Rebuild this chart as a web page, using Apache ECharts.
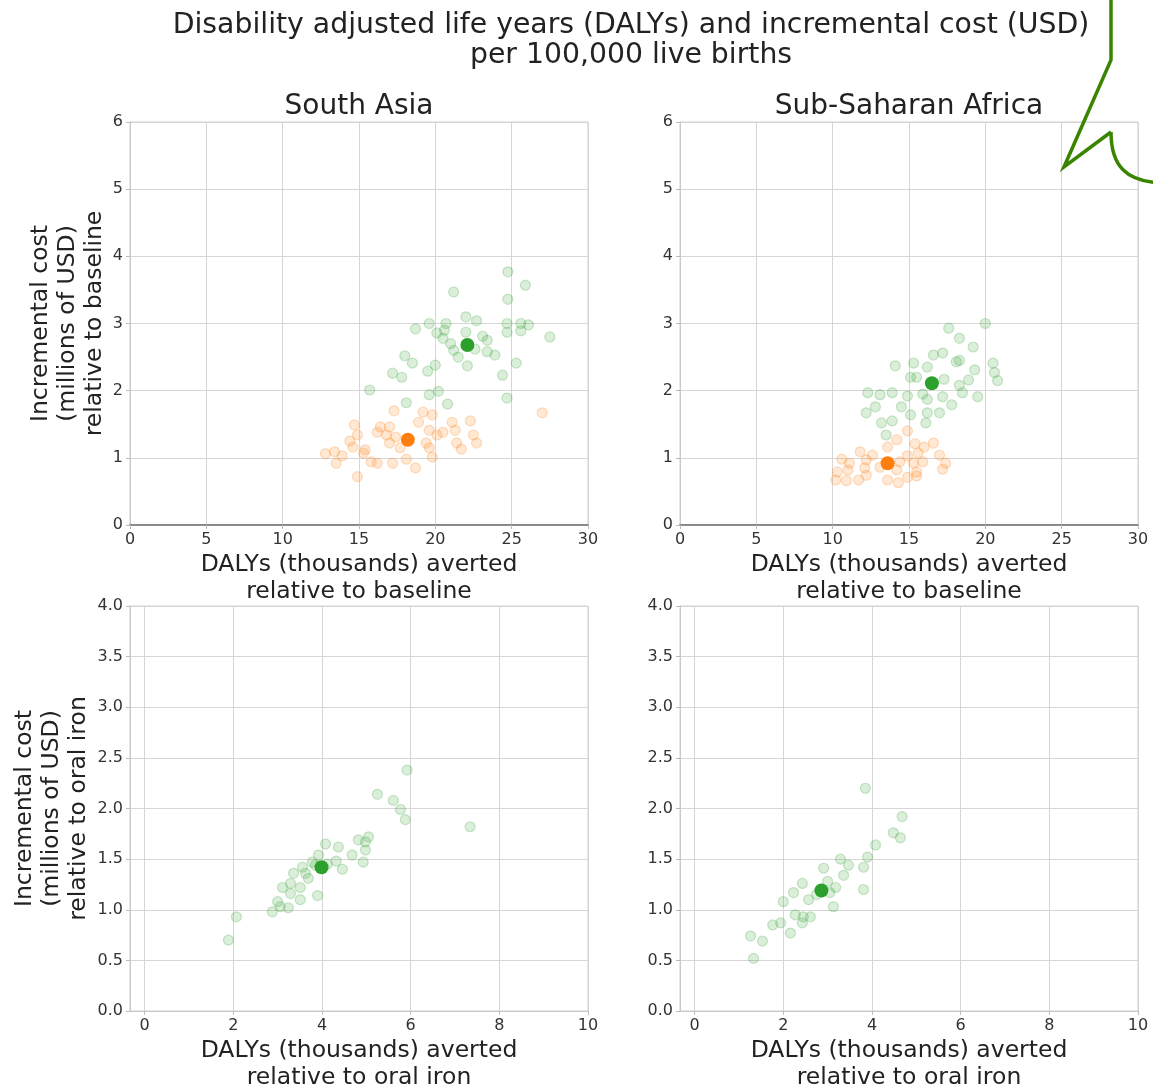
<!DOCTYPE html>
<html>
<head>
<meta charset="utf-8">
<script src="https://cdn.jsdelivr.net/npm/echarts@6/dist/echarts.min.js"></script>
<style>
  html, body { margin: 0; padding: 0; background: #fff; }
  #chart { width: 1153px; height: 1088px; }
</style>
</head>
<body>
<div id="chart"></div>
<script>
// ---- Panel titles and axis text ----
const chartTitle = 'Disability adjusted life years (DALYs) and incremental cost (USD)\nper 100,000 live births';
const regions = ['South Asia', 'Sub-Saharan Africa'];
const xNameBaseline = 'DALYs (thousands) averted\nrelative to baseline';
const xNameOralIron = 'DALYs (thousands) averted\nrelative to oral iron';
const yNameBaseline = 'Incremental cost\n(millions of USD)\nrelative to baseline';
const yNameOralIron = 'Incremental cost\n(millions of USD)\nrelative to oral iron';

// ---- Tick values ----
const baselineXTicks = [0, 5, 10, 15, 20, 25, 30];
const baselineYTicks = [0, 1, 2, 3, 4, 5, 6];
const oralIronXTicks = [0, 2, 4, 6, 8, 10];
const oralIronYTicks = [0, 0.5, 1, 1.5, 2, 2.5, 3, 3.5, 4];

// ---- South Asia, relative to baseline: [DALYs averted (thousands), cost (millions USD)] ----
const saGreenRuns = [
  [24.75, 3.77], [25.9, 3.57], [21.2, 3.47], [24.75, 3.36], [22.0, 3.10], [22.7, 3.04],
  [19.6, 3.0], [20.7, 3.0], [24.7, 3.0], [25.6, 3.0], [26.1, 2.98], [18.7, 2.92],
  [20.6, 2.9], [20.1, 2.86], [22.0, 2.87], [23.1, 2.81], [23.4, 2.75], [24.7, 2.87],
  [25.6, 2.89], [20.5, 2.78], [27.5, 2.80], [21.2, 2.60], [21.5, 2.50], [23.4, 2.58],
  [23.9, 2.53], [22.1, 2.37], [18.0, 2.52], [18.5, 2.41], [20.0, 2.38], [19.5, 2.29],
  [25.3, 2.41], [24.4, 2.23], [17.2, 2.26], [17.8, 2.20], [15.7, 2.01], [19.6, 1.94],
  [20.2, 1.99], [24.7, 1.89], [18.1, 1.82], [20.8, 1.80], [21.0, 2.70], [22.6, 2.62]
];
const saOrangeRuns = [
  [27.0, 1.67], [17.3, 1.70], [19.2, 1.68], [19.8, 1.64], [22.3, 1.55], [21.1, 1.53],
  [14.7, 1.49], [16.4, 1.46], [17.0, 1.46], [18.9, 1.53], [19.6, 1.41], [20.5, 1.38],
  [21.3, 1.41], [14.9, 1.34], [16.2, 1.38], [16.8, 1.34], [17.4, 1.31], [20.1, 1.34],
  [22.5, 1.34], [14.4, 1.25], [17.0, 1.22], [19.4, 1.22], [21.4, 1.22], [22.7, 1.22],
  [14.6, 1.16], [15.4, 1.12], [17.7, 1.15], [19.6, 1.15], [21.7, 1.13], [12.8, 1.06],
  [13.4, 1.09], [13.9, 1.03], [15.3, 1.07], [19.8, 1.01], [13.5, 0.92], [15.8, 0.94],
  [16.2, 0.92], [17.2, 0.92], [18.1, 0.98], [18.7, 0.85], [14.9, 0.72]
];
const saGreenMean = [22.1, 2.68];
const saOrangeMean = [18.2, 1.27];

// ---- Sub-Saharan Africa, relative to baseline ----
const ssaGreenRuns = [
  [20.0, 3.0], [17.6, 2.93], [18.3, 2.78], [19.2, 2.65], [16.6, 2.53], [17.2, 2.56],
  [18.1, 2.43], [18.3, 2.45], [20.5, 2.41], [14.1, 2.37], [15.3, 2.41], [16.2, 2.35],
  [19.3, 2.31], [20.6, 2.27], [20.8, 2.15], [15.1, 2.20], [15.5, 2.20], [17.3, 2.17],
  [18.9, 2.16], [18.3, 2.08], [12.3, 1.97], [13.1, 1.94], [13.9, 1.97], [14.9, 1.92],
  [15.9, 1.95], [16.2, 1.87], [17.2, 1.91], [18.5, 1.97], [19.5, 1.91], [12.8, 1.76],
  [12.2, 1.67], [14.5, 1.76], [15.1, 1.64], [16.2, 1.67], [17.0, 1.67], [17.8, 1.79],
  [13.2, 1.52], [13.9, 1.55], [16.1, 1.52], [13.5, 1.34]
];
const ssaOrangeRuns = [
  [14.9, 1.40], [14.2, 1.27], [15.4, 1.21], [16.0, 1.16], [16.6, 1.22], [11.8, 1.09],
  [12.6, 1.04], [13.6, 1.16], [14.9, 1.03], [15.6, 1.07], [17.0, 1.04], [10.6, 0.98],
  [11.1, 0.92], [12.2, 0.97], [14.4, 0.94], [15.3, 0.92], [15.9, 0.94], [17.4, 0.92],
  [10.3, 0.79], [11.0, 0.82], [12.1, 0.85], [13.1, 0.86], [14.2, 0.82], [15.5, 0.79],
  [17.2, 0.83], [10.2, 0.67], [10.9, 0.66], [11.7, 0.67], [12.2, 0.74], [13.6, 0.67],
  [14.3, 0.63], [14.9, 0.71], [15.5, 0.73]
];
const ssaGreenMean = [16.5, 2.11];
const ssaOrangeMean = [13.6, 0.92];

// ---- South Asia, relative to oral iron ----
const saIronRuns = [
  [5.92, 2.38], [5.25, 2.14], [5.61, 2.08], [5.77, 1.99], [5.88, 1.89], [5.05, 1.72],
  [4.82, 1.69], [4.98, 1.67], [4.98, 1.59], [4.08, 1.65], [4.37, 1.62], [4.68, 1.54],
  [3.92, 1.54], [4.93, 1.47], [3.78, 1.47], [3.56, 1.42], [4.32, 1.48], [4.46, 1.40],
  [3.36, 1.36], [3.63, 1.36], [3.69, 1.31], [3.29, 1.26], [3.11, 1.22], [3.51, 1.22],
  [3.90, 1.14], [3.29, 1.16], [3.00, 1.08], [3.51, 1.10], [3.06, 1.03], [3.24, 1.02],
  [2.88, 0.98], [2.07, 0.93], [1.89, 0.70], [7.34, 1.82], [3.85, 1.44], [4.12, 1.45]
];
const saIronMean = [3.99, 1.42];

// ---- Sub-Saharan Africa, relative to oral iron ----
const ssaIronRuns = [
  [3.85, 2.20], [4.68, 1.92], [4.48, 1.76], [4.64, 1.71], [4.08, 1.64], [3.90, 1.52],
  [3.81, 1.42], [3.29, 1.50], [3.47, 1.44], [2.91, 1.41], [3.36, 1.34], [3.81, 1.20],
  [2.43, 1.26], [3.18, 1.22], [3.00, 1.28], [2.23, 1.17], [2.57, 1.10], [3.13, 1.03],
  [2.00, 1.08], [2.27, 0.95], [2.45, 0.93], [2.61, 0.93], [1.94, 0.87], [1.76, 0.85],
  [2.43, 0.87], [2.16, 0.77], [1.26, 0.74], [1.53, 0.69], [1.33, 0.52], [2.75, 1.15],
  [3.05, 1.17]
];
const ssaIronMean = [2.86, 1.19];

// ---- Styling ----
const FONT = 'DejaVu Sans';
const GREEN = '#2ca02c';
const ORANGE = '#ff7f0e';
const GRID_LINE = '#d6d6d6';
const LABEL_COLOR = '#333';
const NAME_SIZE = 23.5;

const panels = [
  { left: 130, top: 122, width: 458, height: 403 },
  { left: 680, top: 122, width: 458, height: 403 },
  { left: 130, top: 606, width: 458, height: 405 },
  { left: 680, top: 606, width: 458, height: 405 }
];

function baseXAxis(gridIndex, name, nameGap) {
  return {
    type: 'value', gridIndex, name,
    nameLocation: 'middle', nameGap,
    nameTextStyle: { fontFamily: FONT, fontSize: NAME_SIZE, color: '#222', lineHeight: 27, verticalAlign: 'top' },
    axisLine: { show: true, onZero: false, lineStyle: { color: '#c8c8c8', width: 1 } },
    axisTick: { show: true, length: 4, lineStyle: { color: '#bbb' } },
    axisLabel: { fontFamily: FONT, fontSize: 16, color: LABEL_COLOR, margin: 7 },
    splitLine: { show: true, lineStyle: { color: GRID_LINE, width: 1 } }
  };
}

function baseYAxis(gridIndex, name, nameGap) {
  return {
    type: 'value', gridIndex, name,
    nameLocation: 'middle', nameGap, nameRotate: 90,
    nameTextStyle: { fontFamily: FONT, fontSize: NAME_SIZE, color: '#222', lineHeight: 27 },
    axisLine: { show: true, onZero: false, lineStyle: { color: '#c8c8c8', width: 1 } },
    axisTick: { show: true, length: 4, lineStyle: { color: '#bbb' } },
    axisLabel: { fontFamily: FONT, fontSize: 16, color: LABEL_COLOR, margin: 7 },
    splitLine: { show: true, lineStyle: { color: GRID_LINE, width: 1 } }
  };
}

const xAxes = [0, 1].map(i => Object.assign(baseXAxis(i, xNameBaseline, 26), {
  min: baselineXTicks[0], max: baselineXTicks[baselineXTicks.length - 1], interval: 5,
  axisLine: { show: true, onZero: false, lineStyle: { color: '#8a8a8a', width: 2 } }
})).concat([2, 3].map(i => Object.assign(baseXAxis(i, xNameOralIron, 26), {
  min: -0.33, max: 10,
  axisTick: { show: true, length: 4, lineStyle: { color: '#bbb' }, customValues: oralIronXTicks },
  axisLabel: { fontFamily: FONT, fontSize: 16, color: LABEL_COLOR, margin: 7, customValues: oralIronXTicks }
})));

const yAxes = [0, 1].map(i => Object.assign(baseYAxis(i, yNameBaseline, 22), {
  min: baselineYTicks[0], max: baselineYTicks[baselineYTicks.length - 1], interval: 1
})).concat([2, 3].map(i => Object.assign(baseYAxis(i, yNameOralIron, 38), {
  min: oralIronYTicks[0], max: oralIronYTicks[oralIronYTicks.length - 1], interval: 0.5,
  axisLabel: { fontFamily: FONT, fontSize: 16, color: LABEL_COLOR, margin: 7, formatter: v => v.toFixed(1) }
})));
// only the left-hand panels carry a y-axis title
yAxes[1].name = '';
yAxes[3].name = '';

function runs(idx, data, color) {
  return {
    type: 'scatter', xAxisIndex: idx, yAxisIndex: idx, data,
    symbolSize: 10, silent: true,
    itemStyle: { color: echarts.color.modifyAlpha(color, 0.22), borderColor: echarts.color.modifyAlpha(color, 0.3), borderWidth: 1.2 },
    z: 2
  };
}
function mean(idx, point, color) {
  return {
    type: 'scatter', xAxisIndex: idx, yAxisIndex: idx, data: [point],
    symbolSize: 14, silent: true,
    itemStyle: { color, opacity: 1 }, z: 3
  };
}

const option = {
  backgroundColor: '#fff',
  animation: false,
  title: [
    { text: chartTitle, left: 626, top: 6, textAlign: 'center',
      textStyle: { fontFamily: FONT, fontSize: 28.3, fontWeight: 'normal', color: '#222', lineHeight: 30 } },
    { text: regions[0], left: 354, top: 88, textAlign: 'center',
      textStyle: { fontFamily: FONT, fontSize: 28, fontWeight: 'normal', color: '#222' } },
    { text: regions[1], left: 904, top: 88, textAlign: 'center',
      textStyle: { fontFamily: FONT, fontSize: 28, fontWeight: 'normal', color: '#222' } }
  ],
  grid: panels.map(p => Object.assign({
    show: true, borderColor: '#cfcfcf', borderWidth: 1, backgroundColor: 'transparent',
    containLabel: false, outerBoundsMode: 'none'
  }, p)),
  xAxis: xAxes,
  yAxis: yAxes,
  series: [
    runs(0, saGreenRuns, GREEN), runs(0, saOrangeRuns, ORANGE),
    mean(0, saGreenMean, GREEN), mean(0, saOrangeMean, ORANGE),
    runs(1, ssaGreenRuns, GREEN), runs(1, ssaOrangeRuns, ORANGE),
    mean(1, ssaGreenMean, GREEN), mean(1, ssaOrangeMean, ORANGE),
    runs(2, saIronRuns, GREEN), mean(2, saIronMean, GREEN),
    runs(3, ssaIronRuns, GREEN), mean(3, ssaIronMean, GREEN)
  ],
  graphic: [
    // speech-bubble outline in the top-right corner
    { type: 'polyline', z: 100, silent: true,
      shape: { points: [[1111, -5], [1111, 60], [1064, 167], [1111, 132]] },
      style: { stroke: '#3a8500', lineWidth: 3.5, fill: null, lineJoin: 'miter' } },
    { type: 'bezierCurve', z: 100, silent: true,
      shape: { x1: 1111, y1: 132, cpx1: 1111, cpy1: 166, cpx2: 1126, cpy2: 181, x2: 1160, y2: 183 },
      style: { stroke: '#3a8500', lineWidth: 3.5, fill: null } }
  ]
};

const chart = echarts.init(document.getElementById('chart'), null, { renderer: 'canvas' });
chart.setOption(option);
</script>
</body>
</html>
